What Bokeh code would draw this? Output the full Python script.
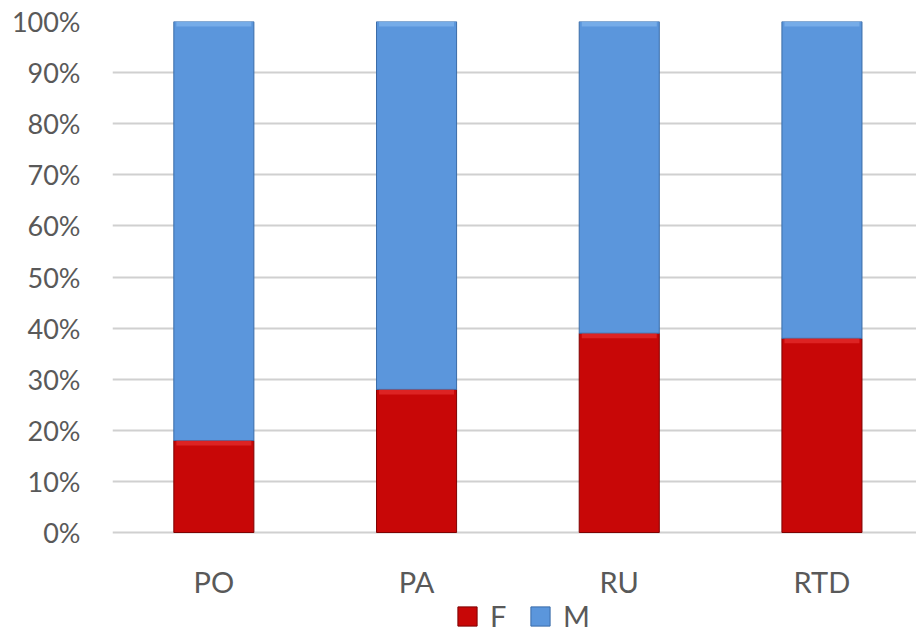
from bokeh.plotting import figure
from bokeh.models import Range1d, FixedTicker, NumeralTickFormatter, Legend, LegendItem, ColumnDataSource
from bokeh.core.properties import value
from bokeh.embed import file_html
from bokeh.resources import INLINE

categories = ["PO", "PA", "RU", "RTD"]
female = [0.18, 0.28, 0.39, 0.38]
male = [0.82, 0.72, 0.61, 0.62]
y_ticks = [0.0, 0.1, 0.2, 0.3, 0.4, 0.5, 0.6, 0.7, 0.8, 0.9, 1.0]

RED = "#C80707"
RED_HI = "#EE3A3A"
BLUE = "#5B96DC"
BLUE_HI = "#8CC0F2"
TEXT = "#595959"
FONT = "Lato"

W, H = 916, 633
LEFT, TOP, PX_PER_UNIT = 112, 21, 511.0
bottom_px = H - (TOP + PX_PER_UNIT)          # pixels below the 0% line inside the frame
y_start = -bottom_px / PX_PER_UNIT
x_end = (W - LEFT) / 202.7

xs = [i + 0.5 for i in range(len(categories))]
src = ColumnDataSource(dict(x=xs, F=female, M=male, cat=categories, zero=[0] * len(xs)))

hi = 5 / PX_PER_UNIT
tops_f = female
tops_m = [f + m for f, m in zip(female, male)]
hl = ColumnDataSource(dict(x=xs + xs,
                           top=tops_f + tops_m,
                           bottom=[t - hi for t in tops_f] + [t - hi for t in tops_m],
                           color=[RED_HI] * len(xs) + [BLUE_HI] * len(xs)))

p = figure(width=W, height=H, output_backend="svg", toolbar_location=None,
           x_range=Range1d(0, x_end), y_range=Range1d(y_start, 1),
           min_border_left=LEFT, min_border_right=0, min_border_top=TOP, min_border_bottom=0)
p.outline_line_color = None
p.background_fill_color = "white"

p.xgrid.grid_line_color = None
p.ygrid.ticker = FixedTicker(ticks=y_ticks)
p.ygrid.grid_line_color = "#D0D0D0"
p.ygrid.grid_line_width = 2

r = p.vbar_stack(["F", "M"], x="x", width=0.395, source=src,
                 fill_color=[RED, BLUE], line_color=["#7E0202", "#3A6CA8"], line_width=1)
p.vbar(x="x", top="top", bottom="bottom", width=0.37, source=hl,
       fill_color="color", line_color=None, fill_alpha=0.55)

p.xaxis.visible = False
p.text(x="x", y="zero", text="cat", source=src, y_offset=49,
       text_align="center", text_baseline="middle",
       text_font=value(FONT), text_font_size="29px", text_color=TEXT)

p.yaxis.ticker = FixedTicker(ticks=y_ticks)
p.yaxis.formatter = NumeralTickFormatter(format="0%")
p.yaxis.major_tick_line_color = None
p.yaxis.minor_tick_line_color = None
p.yaxis.axis_line_color = None
p.yaxis.major_label_text_font = FONT
p.yaxis.major_label_text_font_size = "27px"
p.yaxis.major_label_text_color = TEXT
p.yaxis.major_label_standoff = 26

legend = Legend(items=[LegendItem(label="F", renderers=[r[0]]), LegendItem(label="M", renderers=[r[1]])],
                orientation="horizontal", location=(343, 0),
                label_text_font=FONT, label_text_font_size="29px", label_text_color=TEXT,
                glyph_width=24, glyph_height=24, label_standoff=11, spacing=18,
                border_line_color=None, background_fill_alpha=0, padding=0, margin=0)
p.add_layout(legend, "center")

open("out.html", "w").write(file_html(p, INLINE))
